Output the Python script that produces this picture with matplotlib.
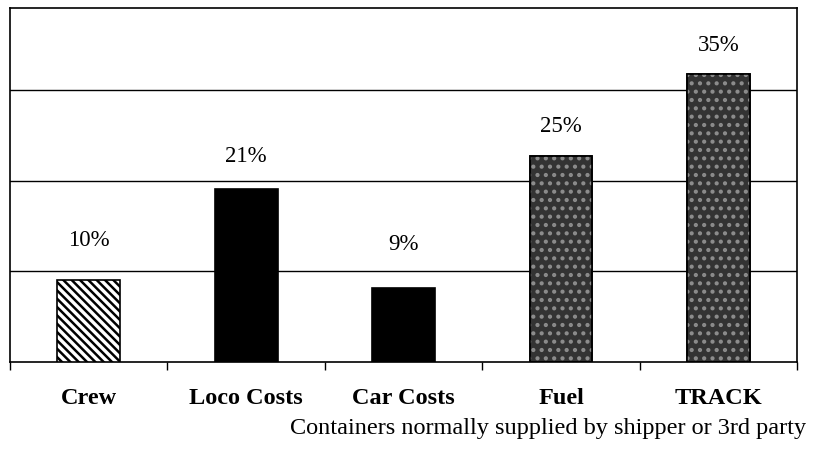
import matplotlib
matplotlib.use("Agg")
import matplotlib.pyplot as plt

categories = ["Crew", "Loco Costs", "Car Costs", "Fuel", "TRACK"]
values = [10, 21, 9, 25, 35]
labels = ["10%", "21%", "9%", "25%", "35%"]
footnote = "Containers normally supplied by shipper or 3rd party"

# style: vertical offset (points) of each value label above its bar
label_offsets = [29, 24, 32, 22, 21]

plt.rcParams['font.family'] = ['Liberation Serif', 'DejaVu Serif']
plt.rcParams['hatch.linewidth'] = 1.8

fig = plt.figure(figsize=(8.14, 4.52), dpi=100)
ax = fig.add_axes([0.0123, 0.197, 0.967, 0.783])

faces = ['white', 'black', 'black', '#333333', '#333333']
hatches = ['\\\\\\\\', None, None, None, None]
x = list(range(len(categories)))
bars = ax.bar(x, values, width=0.4, color=faces, edgecolor='black',
              linewidth=1.2, zorder=3)
for b, h in zip(bars, hatches):
    if h:
        b.set_hatch(h)

# speckle texture on the grey bars
for i in (3, 4):
    ax.bar(x[i], values[i], width=0.4, facecolor='none', edgecolor='#8c8c8c',
           linewidth=0, hatch='..', zorder=4)
    ax.bar(x[i], values[i], width=0.4, facecolor='none', edgecolor='black',
           linewidth=1.2, zorder=5)

for b, lab, off in zip(bars, labels, label_offsets):
    ax.annotate(lab, (b.get_x() + b.get_width() / 2, b.get_height()),
                xytext=(0, off), textcoords='offset points',
                ha='center', va='center', fontsize=16.5)

ax.set_xlim(-0.5, 4.5)
ax.set_ylim(0, 43)
ax.set_yticks([11, 22, 33])
ax.yaxis.grid(True, color='black', linewidth=1.0, zorder=0)
ax.tick_params(axis='y', length=0, labelleft=False)

ax.set_xticks(x)
ax.set_xticklabels(categories, fontsize=17.5, fontweight='bold')
ax.tick_params(axis='x', which='major', length=0, pad=18)
ax.set_xticks([i - 0.5 for i in range(len(categories) + 1)], minor=True)
ax.tick_params(axis='x', which='minor', length=6, width=1.0, direction='out')

for s in ax.spines.values():
    s.set_color('black')
    s.set_linewidth(1.2)

fig.text(0.990, 0.053, footnote, ha='right', va='center', fontsize=17.5)

fig.savefig("out.png", dpi=100)
